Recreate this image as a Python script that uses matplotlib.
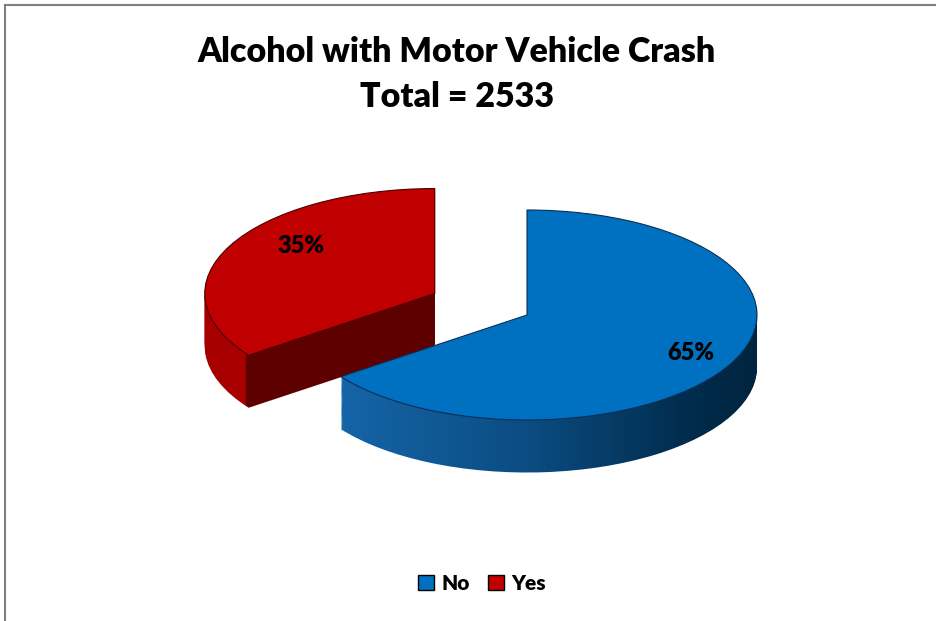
import numpy as np
import matplotlib
matplotlib.use('Agg')
import matplotlib.pyplot as plt
from matplotlib.colors import LinearSegmentedColormap, to_rgb
from matplotlib.patches import Patch, Rectangle

# ---- data ----
categories = ['No', 'Yes']
values = [65, 35]
total = 2533
title_line1 = 'Alcohol with Motor Vehicle Crash'
title_line2 = f'Total = {total}'
explode = [0.0, 0.45]

# ---- style ----
top_colors = ['#0070c0', '#c00000']
edge_colors = ['#0b2f55', '#4a0000']
FONT = 'Lato'

W, H = 936, 621
fig = plt.figure(figsize=(W / 100, H / 100), dpi=100)
ax = fig.add_axes([0, 0, 1, 1])

# pixel geometry of the tilted pie
cx, cy, rx, ry = 527, 315, 230, 105
depth = 0.50
N = 50

# top surface
wedges, texts, autotexts = ax.pie(
    values, explode=explode, startangle=90, counterclock=False,
    colors=top_colors, radius=1, center=(0, 0), autopct='%1.0f%%',
    pctdistance=0.75, frame=False,
    wedgeprops=dict(linewidth=0.8, zorder=5),
    textprops=dict(fontsize=17, fontweight='heavy', family=FONT, color='black', zorder=6))
for w, ec in zip(wedges, edge_colors):
    w.set_edgecolor(ec)
    w.set_zorder(5)

# label placement (Excel-like)
label_dist = [0.80, 0.74]
label_shift = [0.0, -11.0]
for w, t, dist, sh in zip(wedges, autotexts, label_dist, label_shift):
    mid = np.radians((w.theta1 + w.theta2) / 2 + sh)
    t.set_position((w.center[0] + dist * np.cos(mid), w.center[1] + dist * np.sin(mid)))
    t.set_zorder(6)

blue_cmap = LinearSegmentedColormap.from_list(
    'bside', [(0, '#1a6ab2'), (0.1, '#1565a8'), (0.5, '#0b4c82'), (0.85, '#012c4c'), (1, '#00243e')])
blue_img = blue_cmap(np.linspace(0, 1, 256))[None, :, :3]

red_light = np.array(to_rgb('#a80000'))
red_dark = np.array(to_rgb('#5e0000'))

# side walls: stacked layers
for k in range(N, 0, -1):
    off = -depth * k / N
    lw, _ = ax.pie(values, explode=explode, startangle=90, counterclock=False,
                   radius=1, center=(0, off), frame=False,
                   wedgeprops=dict(linewidth=0, facecolor='none'))
    z = 1 + (N - k) * 0.01
    for i, w in enumerate(lw):
        wx, wy = w.center
        if i == 0:
            img = blue_img
        else:
            thetas = [w.theta1, w.theta2]
            front = min(thetas, key=lambda th: np.sin(np.radians(th)))
            x_edge = wx + np.cos(np.radians(front))
            xs = np.linspace(wx - 1, wx + 1, 400)
            img = np.where((xs < x_edge)[:, None], red_light, red_dark)[None, :, :]
        im = ax.imshow(img, extent=[wx - 1.02, wx + 1.02, wy - 1.2, wy + 1.2],
                       aspect='auto', interpolation='bilinear', zorder=z)
        im.set_clip_path(w)

ax.set_aspect('auto')
ax.set_xlim(-cx / rx, (W - cx) / rx)
ax.set_ylim((cy - H) / ry, cy / ry)
ax.axis('off')

# title
fig.text(457 / W, 1 - 52 / H, title_line1, ha='center', va='center',
         fontsize=24.5, fontweight='heavy', family=FONT)
fig.text(457 / W, 1 - 97 / H, title_line2, ha='center', va='center',
         fontsize=24.5, fontweight='heavy', family=FONT)

# legend
handles = [Patch(facecolor=c, edgecolor='black', linewidth=1.0) for c in top_colors]
fig.legend(handles, categories, loc='center', bbox_to_anchor=(482 / W, 1 - 583 / H),
           ncol=2, frameon=False, handlelength=0.75, handleheight=0.75,
           handletextpad=0.35, columnspacing=0.9,
           prop=dict(weight='heavy', size=15, family=FONT))

# chart frame
fig.add_artist(Rectangle((5 / W, -0.1), 1.2, 1 - 4.5 / H + 0.1, transform=fig.transFigure,
                         fill=False, edgecolor='#808080', linewidth=1.5))

fig.savefig('out.png', dpi=100, facecolor='white')
